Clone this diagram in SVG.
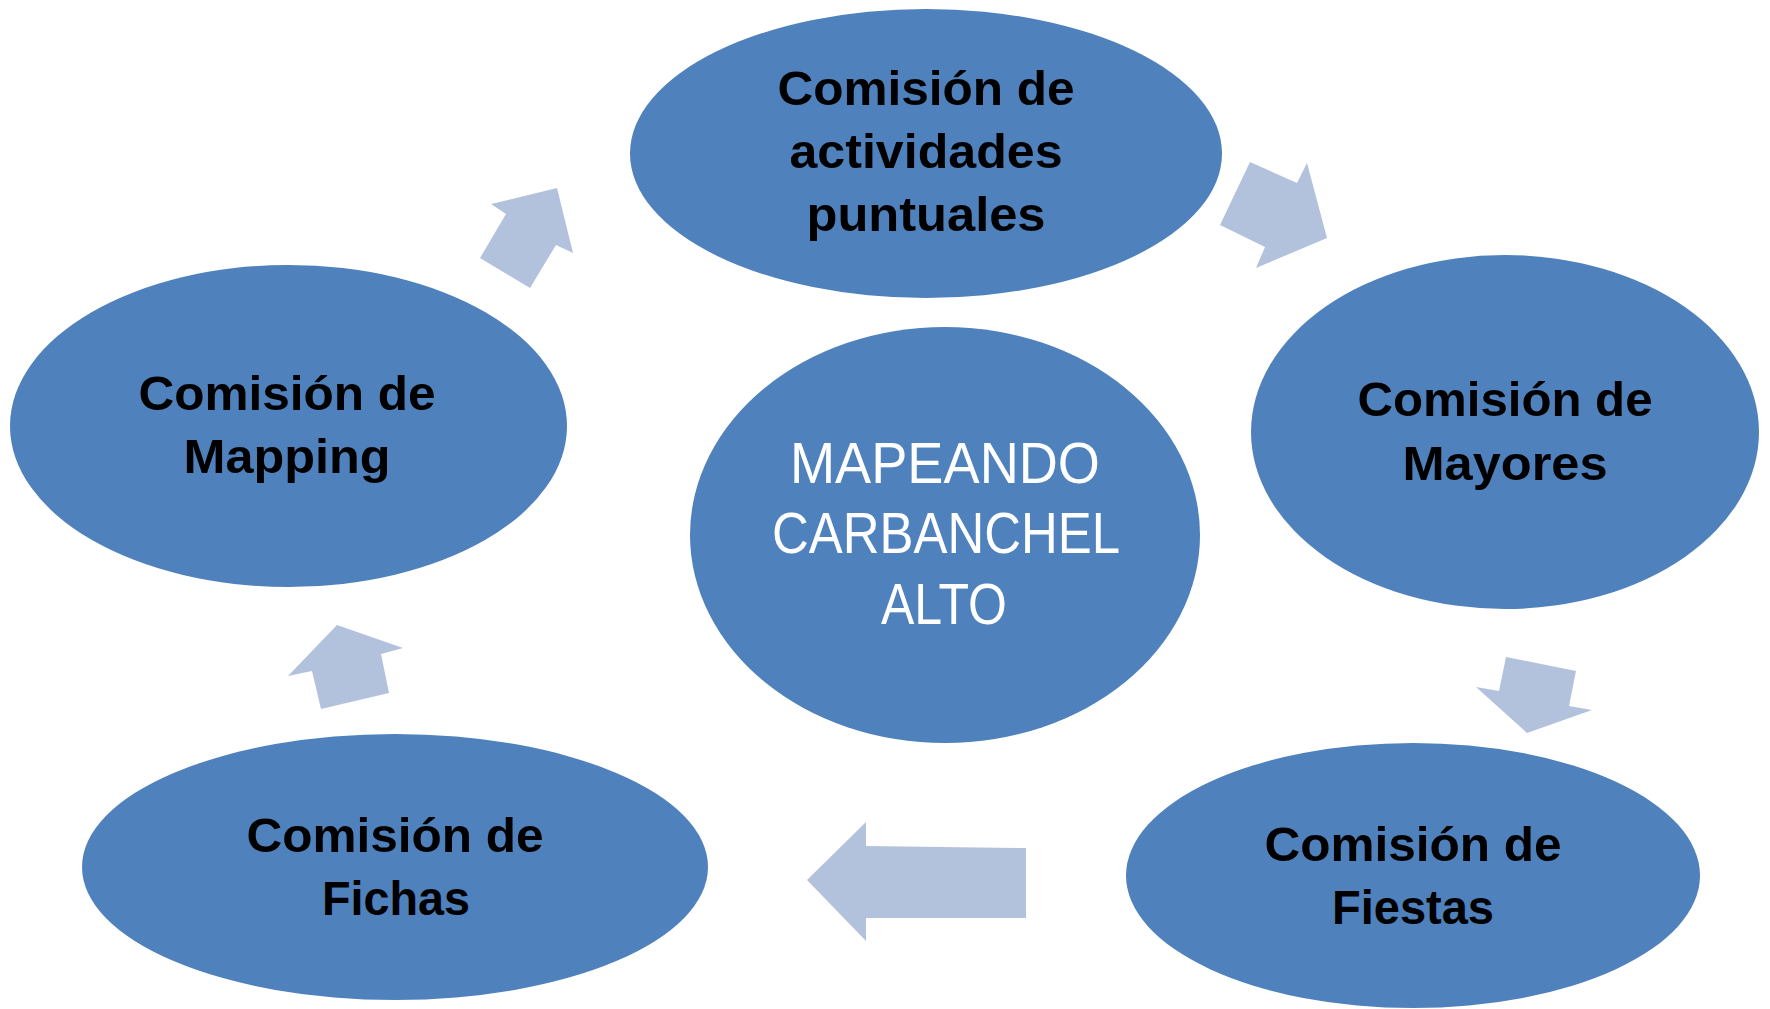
<svg xmlns="http://www.w3.org/2000/svg" width="1770" height="1009" viewBox="0 0 1770 1009">
<style>
.node{fill:#4F81BD;}
.arrow{fill:#B3C2DC;}
.lbl{font-family:"Liberation Sans",Arial,sans-serif;font-weight:bold;font-size:48px;fill:#000;text-anchor:middle;}
.ctr{font-family:"Liberation Sans",Arial,sans-serif;font-size:57px;fill:#fff;text-anchor:middle;}
</style>
<rect width="1770" height="1009" fill="#fff"/>
<g id="connectors">
<polygon class="arrow" points="480,258 530,288 556,245 573,253 557,188 491,204 506,214"/>
<polygon class="arrow" points="1250,162 1297,183 1307,163 1327,238 1256,268 1265,247 1220,225"/>
<polygon class="arrow" points="1506,657 1576,671 1569,706 1592,710 1527,733 1476,687 1499,691"/>
<polygon class="arrow" points="807,880 866,822 866,846 1026,848 1026,918 866,918 866,941"/>
<polygon class="arrow" points="337,625 403,648 381,654 389,693 321,709 312,671 288,676"/>
</g>
<g id="center">
<ellipse class="node" cx="945" cy="535" rx="255" ry="208"/>
<text class="ctr" x="945" y="483" textLength="310" lengthAdjust="spacingAndGlyphs">MAPEANDO</text>
<text class="ctr" x="946" y="553" textLength="348" lengthAdjust="spacingAndGlyphs">CARBANCHEL</text>
<text class="ctr" x="944" y="624" textLength="126" lengthAdjust="spacingAndGlyphs">ALTO</text>
</g>
<g id="actividades">
<ellipse class="node" cx="926" cy="153.5" rx="296" ry="144.5"/>
<text class="lbl" x="926" y="105" textLength="297" lengthAdjust="spacingAndGlyphs">Comisión de</text>
<text class="lbl" x="926" y="168" textLength="273" lengthAdjust="spacingAndGlyphs">actividades</text>
<text class="lbl" x="926" y="231" textLength="239" lengthAdjust="spacingAndGlyphs">puntuales</text>
</g>
<g id="mayores">
<ellipse class="node" cx="1505" cy="432" rx="254" ry="177"/>
<text class="lbl" x="1505" y="416" textLength="295" lengthAdjust="spacingAndGlyphs">Comisión de</text>
<text class="lbl" x="1505" y="480" textLength="205" lengthAdjust="spacingAndGlyphs">Mayores</text>
</g>
<g id="fiestas">
<ellipse class="node" cx="1413" cy="875.5" rx="287" ry="132.5"/>
<text class="lbl" x="1413" y="861" textLength="297" lengthAdjust="spacingAndGlyphs">Comisión de</text>
<text class="lbl" x="1413" y="924" textLength="162" lengthAdjust="spacingAndGlyphs">Fiestas</text>
</g>
<g id="fichas">
<ellipse class="node" cx="395" cy="867" rx="313" ry="133"/>
<text class="lbl" x="395" y="852" textLength="297" lengthAdjust="spacingAndGlyphs">Comisión de</text>
<text class="lbl" x="396" y="915" textLength="148" lengthAdjust="spacingAndGlyphs">Fichas</text>
</g>
<g id="mapping">
<ellipse class="node" cx="288.5" cy="426" rx="278.5" ry="161"/>
<text class="lbl" x="287" y="410" textLength="297" lengthAdjust="spacingAndGlyphs">Comisión de</text>
<text class="lbl" x="287" y="473" textLength="207" lengthAdjust="spacingAndGlyphs">Mapping</text>
</g>
</svg>
